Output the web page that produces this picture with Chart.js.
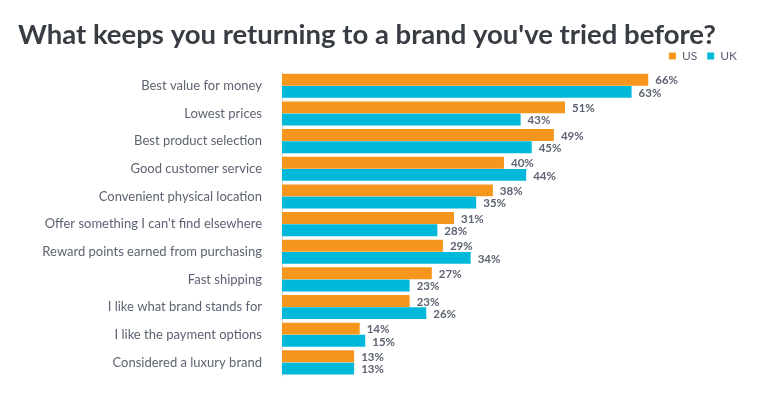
<!DOCTYPE html>
<html>
<head>
<meta charset="utf-8">
<script src="https://cdn.jsdelivr.net/npm/chart.js@4"></script>
<style>
  html, body { margin: 0; padding: 0; background: #fff; }
  #wrap { width: 781px; height: 396px; }
</style>
</head>
<body>
<div id="wrap"><canvas id="myChart" width="781" height="396"></canvas></div>
<script>
var categories = [
    'Best value for money',
    'Lowest prices',
    'Best product selection',
    'Good customer service',
    'Convenient physical location',
    "Offer something I can't find elsewhere",
    'Reward points earned from purchasing',
    'Fast shipping',
    'I like what brand stands for',
    'I like the payment options',
    'Considered a luxury brand'
];
var us_values = [66, 51, 49, 40, 38, 31, 29, 27, 23, 14, 13];
var uk_values = [63, 43, 45, 44, 35, 28, 34, 23, 26, 15, 13];

var title_text = "What keeps you returning to a brand you've tried before?";
var orange = '#F7961C';
var cyan = '#00B8DA';
var label_grey = '#5d6372';
var title_family = 'Lato, "DejaVu Sans", sans-serif';

// pick a title size so the line spans about the same width as the original (~704px)
var myChart = document.getElementById('myChart').getContext('2d');
myChart.font = 'bold 20px ' + title_family;
var title_size = Math.round(20 * 704 / myChart.measureText(title_text).width * 2) / 2;
var title_top = 35.5 - title_size / 2;

// draws the "66%" style numbers at the end of each bar
var valueLabels = {
    id: 'valueLabels',
    afterDatasetsDraw: function(chart) {
        var ctx = chart.ctx;
        ctx.save();
        ctx.font = 'bold 11.5px Lato, "DejaVu Sans", sans-serif';
        ctx.fillStyle = label_grey;
        ctx.textAlign = 'left';
        ctx.textBaseline = 'middle';
        chart.data.datasets.forEach(function(ds, i){
            var meta = chart.getDatasetMeta(i);
            meta.data.forEach(function(bar, j){
                ctx.fillText(ds.data[j] + '%', bar.x + 7, bar.y + 1);
            });
        });
        ctx.restore();
    }
};

var barChart = new Chart(myChart, {
    type: 'bar',
    data: {
        labels: categories,
        datasets: [{
            label: 'US',
            data: us_values,
            backgroundColor: orange
        }, {
            label: 'UK',
            data: uk_values,
            backgroundColor: cyan
        }]
    },
    options: {
        indexAxis: 'y',
        responsive: false,
        animation: false,
        layout: { padding: { left: 18, right: 34, top: 0, bottom: 16 } },
        categoryPercentage: 0.88,
        barPercentage: 0.98,
        scales: {
            x: { display: false, min: 0, max: 83.8 },
            y: {
                grid: { display: false },
                border: { display: true, color: '#d9d9d9', width: 1 },
                ticks: {
                    padding: 12,
                    color: label_grey,
                    font: { family: 'Lato, "DejaVu Sans", sans-serif', size: 13 }
                },
                afterFit: function(scale){ scale.width = 264; }
            }
        },
        plugins: {
            title: {
                display: true,
                text: title_text,
                align: 'start',
                color: '#383c43',
                font: { family: title_family, size: title_size, weight: 'bold', lineHeight: 1 },
                // negative bottom pulls the legend up beside the title's last line
                padding: { top: title_top, bottom: 40 - title_top - title_size }
            },
            legend: {
                display: true,
                position: 'top',
                align: 'end',
                labels: {
                    boxWidth: 7,
                    boxHeight: 7,
                    padding: 10,
                    color: label_grey,
                    font: { family: 'Lato, "DejaVu Sans", sans-serif', size: 12 }
                }
            },
            tooltip: { enabled: false }
        }
    },
    plugins: [valueLabels]
});
</script>
</body>
</html>
